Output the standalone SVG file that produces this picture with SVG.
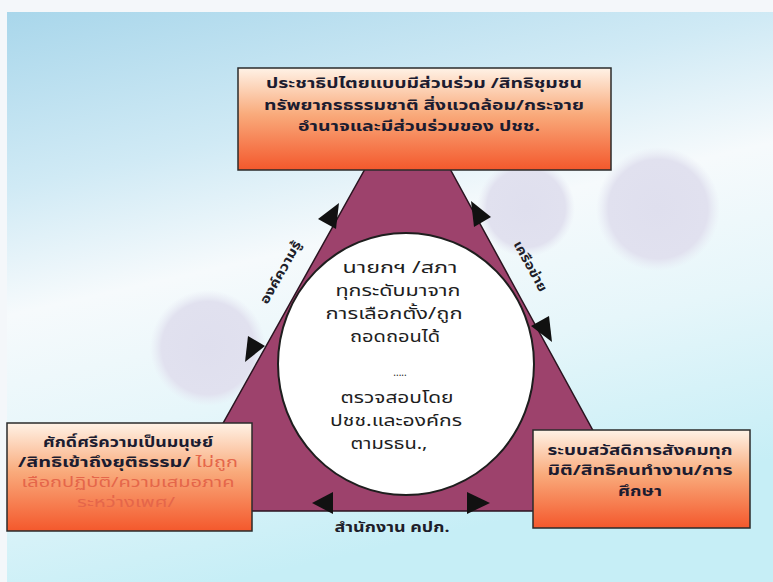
<svg xmlns="http://www.w3.org/2000/svg" width="773" height="582" viewBox="0 0 773 582">
<style>
.t{font-family:"Noto Sans Thai","Noto Sans","DejaVu Sans",sans-serif;text-anchor:middle}
.bx{font-weight:bold;font-size:14.5px;fill:#1c1c30}
.red{fill:#e5664a;font-weight:normal}
.ctr{font-size:16.5px;fill:#1e1e1e}
.lbl{font-weight:bold;font-size:13px;fill:#1e1e2a}
.box{stroke:#2b2b2b;stroke-width:1.5;fill:url(#boxg)}
.arr{fill:#111}
</style>
<defs>
<linearGradient id="bg" x1="0" y1="0" x2="0.3" y2="1">
<stop offset="0" stop-color="#a6d5ea"/>
<stop offset="0.3" stop-color="#d0eaf5"/>
<stop offset="0.5" stop-color="#f6fafc"/>
<stop offset="0.72" stop-color="#e6f6fa"/>
<stop offset="1" stop-color="#c6eef6"/>
</linearGradient>
<linearGradient id="boxg" x1="0" y1="0" x2="0" y2="1">
<stop offset="0" stop-color="#fff2e6"/>
<stop offset="0.45" stop-color="#f9ab7c"/>
<stop offset="1" stop-color="#f4582c"/>
</linearGradient>
<radialGradient id="circ">
<stop offset="0" stop-color="#dfdfee"/>
<stop offset="0.8" stop-color="#e1e1ef"/>
<stop offset="1" stop-color="#e6e8f3" stop-opacity="0"/>
</radialGradient>
</defs>
<rect width="773" height="582" fill="url(#bg)"/>
<rect x="0" y="0" width="773" height="12" fill="#f4f7fa"/>
<rect x="0" y="0" width="7" height="582" fill="#f4f7fa"/>
<g id="bg-circles">
<circle cx="526" cy="208" r="49" fill="url(#circ)"/>
<circle cx="658" cy="209" r="62" fill="url(#circ)"/>
<circle cx="208" cy="348" r="58" fill="url(#circ)"/>
</g>
<g id="triangle">
<polygon points="408,92 637,511 174,511" fill="#9d426c" stroke="#2a1420" stroke-width="1.5" stroke-linejoin="round"/>
</g>
<g id="node-center">
<ellipse cx="406" cy="364" rx="128" ry="131" fill="#ffffff" stroke="#1e1e1e" stroke-width="2"/>
<text class="t ctr" x="400" y="273" textLength="115" lengthAdjust="spacingAndGlyphs">นายกฯ /สภา</text>
<text class="t ctr" x="398" y="296" textLength="125" lengthAdjust="spacingAndGlyphs">ทุกระดับมาจาก</text>
<text class="t ctr" x="394" y="319" textLength="137" lengthAdjust="spacingAndGlyphs">การเลือกตั้ง/ถูก</text>
<text class="t ctr" x="395" y="342" textLength="90" lengthAdjust="spacingAndGlyphs">ถอดถอนได้</text>
<text class="t ctr" x="400" y="376" style="font-size:10px">.....</text>
<text class="t ctr" x="397" y="403" textLength="113" lengthAdjust="spacingAndGlyphs">ตรวจสอบโดย</text>
<text class="t ctr" x="396" y="426" textLength="132" lengthAdjust="spacingAndGlyphs">ปชช.และองค์กร</text>
<text class="t ctr" x="389" y="449" textLength="77" lengthAdjust="spacingAndGlyphs">ตามรธน.,</text>
</g>
<g id="node-top">
<rect class="box" x="238" y="68" width="373" height="102"/>
<text class="t bx" x="424" y="88" textLength="316" lengthAdjust="spacingAndGlyphs">ประชาธิปไตยแบบมีส่วนร่วม /สิทธิชุมชน</text>
<text class="t bx" x="424" y="110" textLength="320" lengthAdjust="spacingAndGlyphs">ทรัพยากรธรรมชาติ สิ่งแวดล้อม/กระจาย</text>
<text class="t bx" x="419" y="131" textLength="242" lengthAdjust="spacingAndGlyphs">อำนาจและมีส่วนร่วมของ ปชช.</text>
</g>
<g id="node-left">
<rect class="box" x="7" y="423" width="245" height="108"/>
<text class="t bx" x="128" y="447" textLength="170" lengthAdjust="spacingAndGlyphs">ศักดิ์ศรีความเป็นมนุษย์</text>
<text class="t bx" x="128" y="467" textLength="220" lengthAdjust="spacingAndGlyphs">/สิทธิเข้าถึงยุติธรรม/ <tspan class="red">ไม่ถูก</tspan></text>
<text class="t bx red" x="128" y="487" textLength="213" lengthAdjust="spacingAndGlyphs">เลือกปฏิบัติ/ความเสมอภาค</text>
<text class="t bx red" x="126" y="507" textLength="98" lengthAdjust="spacingAndGlyphs">ระหว่างเพศ/</text>
</g>
<g id="node-right">
<rect class="box" x="533" y="430" width="217" height="98"/>
<text class="t bx" x="640" y="455" textLength="185" lengthAdjust="spacingAndGlyphs">ระบบสวัสดิการสังคมทุก</text>
<text class="t bx" x="640" y="475" textLength="185" lengthAdjust="spacingAndGlyphs">มิติ/สิทธิคนทำงาน/การ</text>
<text class="t bx" x="640" y="496" textLength="44" lengthAdjust="spacingAndGlyphs">ศึกษา</text>
</g>
<g id="connectors">
<polygon class="arr" points="339,203 336,229 318,219"/>
<polygon class="arr" points="245,362 248,336 265,346"/>
<polygon class="arr" points="471,201 491,217 474,227"/>
<polygon class="arr" points="552,342 531,326 549,316"/>
<polygon class="arr" points="312,503 333,492 333,514"/>
<polygon class="arr" points="490,503 467,492 467,514"/>
<text class="t lbl" transform="translate(280,272) rotate(-60.7)" y="5" textLength="70" lengthAdjust="spacingAndGlyphs">องค์ความรู้</text>
<text class="t lbl" transform="translate(531,266) rotate(61.3)" y="5" textLength="56" lengthAdjust="spacingAndGlyphs">เครือข่าย</text>
<text class="t lbl" x="392" y="532" style="font-size:14px" textLength="115" lengthAdjust="spacingAndGlyphs">สำนักงาน คปก.</text>
</g>
</svg>
